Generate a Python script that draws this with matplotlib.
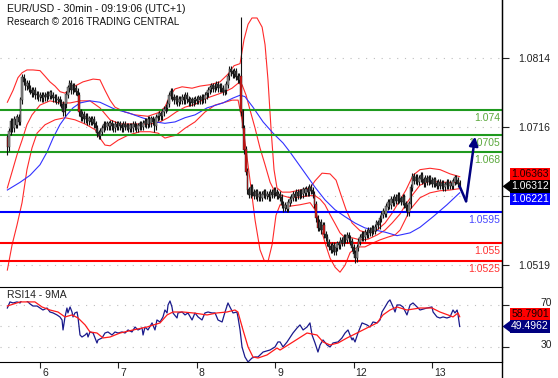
import numpy as np
import matplotlib.pyplot as plt
import matplotlib.transforms as mtrans
from matplotlib.lines import Line2D
from matplotlib.patches import Polygon

plt.rcParams['font.family'] = ['Liberation Sans', 'DejaVu Sans']

# EUR/USD 30min closes, bar 20 = start of day 6 (48 bars a day)
closes = [
    1.0687, 1.0709, 1.0723, 1.0714, 1.0726, 1.0719, 1.0729, 1.0723, 1.0754, 1.0786, 1.0780, 1.0774,
    1.0777, 1.0770, 1.0768, 1.0764, 1.0767, 1.0761, 1.0762, 1.0758, 1.0760, 1.0757, 1.0761, 1.0758,
    1.0762, 1.0760, 1.0764, 1.0760, 1.0757, 1.0758, 1.0754, 1.0755, 1.0751, 1.0748, 1.0737, 1.0748,
    1.0762, 1.0771, 1.0777, 1.0768, 1.0774, 1.0770, 1.0766, 1.0760, 1.0737, 1.0730, 1.0733, 1.0727,
    1.0730, 1.0724, 1.0727, 1.0723, 1.0726, 1.0720, 1.0714, 1.0707, 1.0703, 1.0709, 1.0714, 1.0719,
    1.0716, 1.0720, 1.0717, 1.0721, 1.0717, 1.0714, 1.0719, 1.0716, 1.0720, 1.0717, 1.0714, 1.0719,
    1.0716, 1.0717, 1.0713, 1.0717, 1.0714, 1.0719, 1.0716, 1.0713, 1.0717, 1.0720, 1.0716, 1.0721,
    1.0724, 1.0720, 1.0726, 1.0721, 1.0727, 1.0723, 1.0717, 1.0729, 1.0731, 1.0734, 1.0731, 1.0737,
    1.0740, 1.0743, 1.0749, 1.0760, 1.0766, 1.0758, 1.0754, 1.0757, 1.0751, 1.0755, 1.0753, 1.0758,
    1.0754, 1.0760, 1.0755, 1.0751, 1.0754, 1.0750, 1.0754, 1.0755, 1.0753, 1.0757, 1.0754, 1.0758,
    1.0755, 1.0761, 1.0764, 1.0768, 1.0771, 1.0774, 1.0770, 1.0773, 1.0776, 1.0771, 1.0774, 1.0770,
    1.0766, 1.0768, 1.0776, 1.0788, 1.0797, 1.0794, 1.0791, 1.0795, 1.0787, 1.0783, 1.0788, 1.0737,
    1.0714, 1.0683, 1.0652, 1.0626, 1.0619, 1.0629, 1.0622, 1.0618, 1.0623, 1.0616, 1.0620, 1.0615,
    1.0619, 1.0623, 1.0618, 1.0620, 1.0616, 1.0622, 1.0619, 1.0625, 1.0622, 1.0618, 1.0620, 1.0615,
    1.0605, 1.0601, 1.0604, 1.0599, 1.0608, 1.0612, 1.0615, 1.0619, 1.0616, 1.0622, 1.0618, 1.0623,
    1.0620, 1.0626, 1.0622, 1.0627, 1.0623, 1.0629, 1.0625, 1.0620, 1.0605, 1.0586, 1.0572, 1.0580,
    1.0569, 1.0575, 1.0563, 1.0558, 1.0551, 1.0545, 1.0541, 1.0547, 1.0538, 1.0544, 1.0549, 1.0547,
    1.0554, 1.0551, 1.0558, 1.0555, 1.0561, 1.0557, 1.0552, 1.0544, 1.0535, 1.0529, 1.0544, 1.0552,
    1.0558, 1.0562, 1.0559, 1.0565, 1.0562, 1.0568, 1.0565, 1.0571, 1.0568, 1.0573, 1.0579, 1.0576,
    1.0585, 1.0591, 1.0595, 1.0592, 1.0602, 1.0608, 1.0604, 1.0612, 1.0608, 1.0615, 1.0611, 1.0618,
    1.0613, 1.0609, 1.0615, 1.0606, 1.0601, 1.0594, 1.0606, 1.0629, 1.0645, 1.0639, 1.0644, 1.0638,
    1.0642, 1.0646, 1.0640, 1.0636, 1.0642, 1.0638, 1.0643, 1.0639, 1.0635, 1.0640, 1.0635, 1.0632,
    1.0636, 1.0632, 1.0635, 1.0630, 1.0633, 1.0636, 1.0632, 1.0635, 1.0632, 1.0638, 1.0643, 1.0639,
    1.0635, 1.06312]
first_open = 1.0700
spike_high = {0: 1.0704, 143: 1.0872}
spike_low = {0: 1.0676, 90: 1.0708, 169: 1.0594, 213: 1.0522}

days = ['6', '7', '8', '9', '12', '13']
day_bar = [20, 68, 116, 164, 212, 260]

# bollinger bands (red)
upper_bar = [0, 3.5, 6.5, 9, 12, 15.7, 20, 23.1, 26.1, 29.2, 32.3, 35.3, 38.4, 41.4, 46.3, 52.5, 56.7,
             59.8, 62.9, 65.9, 72.1, 78.2, 86.1, 92.3, 96.5, 99.6, 102.7, 107, 113.1, 118, 124.1, 130.2,
             135.1, 138.8, 142.5, 144.9, 147.4, 149.8, 152.9, 156, 157.8, 159.6, 161.5, 163.3, 165.1,
             168.2, 173.1, 179.2, 185.4, 188.4, 192.7, 197.6, 201.3, 204.3, 207.4, 211.1, 216, 220.9,
             226.4, 231.3, 235.6, 240.5, 244.1, 248.4, 252.7, 258.8, 265, 271.1, 277]
upper = [1.0751, 1.0768, 1.0786, 1.0793, 1.0797, 1.0797, 1.0796, 1.0788, 1.0780, 1.0774, 1.0766, 1.0764,
         1.0770, 1.0774, 1.0780, 1.0784, 1.0783, 1.0768, 1.0754, 1.0744, 1.0737, 1.0733, 1.0731, 1.0736,
         1.0744, 1.0761, 1.0770, 1.0773, 1.0771, 1.0774, 1.0776, 1.0780, 1.0791, 1.0803, 1.0806, 1.0840,
         1.0862, 1.0871, 1.0871, 1.0858, 1.0833, 1.0783, 1.0712, 1.0655, 1.0629, 1.0623, 1.0623, 1.0626,
         1.0629, 1.0639, 1.0650, 1.0649, 1.0640, 1.0619, 1.0598, 1.0579, 1.0568, 1.0565, 1.0569, 1.0579,
         1.0593, 1.0612, 1.0626, 1.0647, 1.0655, 1.0657, 1.0655, 1.0649, 1.0645]
mid_bar = [0, 2.9, 5.9, 9, 12, 15.1, 20, 26.1, 32.3, 38.4, 44.5, 50.6, 56.7, 62.9, 69, 75.1, 81.2, 87.4,
           93.5, 98.4, 103.3, 108.8, 114.9, 121, 127.2, 133.3, 137.6, 141.3, 143.7, 146.2, 148.6, 151.7,
           154.7, 157.8, 160.9, 163.9, 167, 173.1, 179.2, 185.4, 188.4, 191.5, 194.5, 197.6, 200.7, 203.7,
           206.8, 211.1, 216, 220.9, 226.4, 231.3, 235.6, 240.5, 244.1, 248.4, 252.7, 258.8, 265, 271.1, 277]
mid = [1.0629, 1.0652, 1.0676, 1.0697, 1.0719, 1.0733, 1.0747, 1.0753, 1.0750, 1.0750, 1.0753, 1.0753,
       1.0743, 1.0726, 1.0720, 1.0720, 1.0720, 1.0720, 1.0723, 1.0729, 1.0737, 1.0744, 1.0748, 1.0756,
       1.0761, 1.0766, 1.0771, 1.0778, 1.0776, 1.0761, 1.0740, 1.0714, 1.0686, 1.0662, 1.0637, 1.0623,
       1.0619, 1.0615, 1.0616, 1.0618, 1.0618, 1.0613, 1.0605, 1.0591, 1.0578, 1.0565, 1.0558, 1.0558,
       1.0555, 1.0556, 1.0562, 1.0569, 1.0579, 1.0592, 1.0606, 1.0620, 1.0633, 1.0639, 1.0637, 1.0637, 1.0636]
lower_bar = [0, 2.9, 5.9, 9, 12, 15.1, 18.2, 23.1, 29.2, 35.3, 41.4, 47.6, 53.7, 56.7, 59.8, 62.9, 67.8,
             73.9, 81.2, 87.4, 92.3, 96.5, 99.6, 103.3, 108.8, 114.9, 121, 127.2, 133.3, 137.6, 141.3,
             143.7, 146.2, 148.6, 151.7, 154.7, 157.2, 159.6, 162.1, 164.5, 167, 173.1, 179.2, 185.4,
             188.4, 191.5, 194.5, 197.6, 200.7, 203.7, 206.8, 209.9, 214.7, 219, 223.3, 228.2, 233.1,
             237.4, 240.5, 243.5, 246.6, 252.7, 258.8, 265, 271.1, 277]
lower = [1.0512, 1.0548, 1.0576, 1.0608, 1.0655, 1.0686, 1.0707, 1.0719, 1.0726, 1.0729, 1.0726, 1.0720,
         1.0712, 1.0700, 1.0690, 1.0689, 1.0697, 1.0704, 1.0709, 1.0709, 1.0707, 1.0700, 1.0702, 1.0704,
         1.0714, 1.0723, 1.0737, 1.0747, 1.0751, 1.0754, 1.0754, 1.0726, 1.0683, 1.0640, 1.0583, 1.0541,
         1.0526, 1.0524, 1.0548, 1.0590, 1.0605, 1.0603, 1.0605, 1.0608, 1.0598, 1.0576, 1.0551, 1.0529,
         1.0516, 1.0509, 1.0519, 1.0537, 1.0545, 1.0545, 1.0550, 1.0555, 1.0559, 1.0562, 1.0569, 1.0583,
         1.0598, 1.0615, 1.0622, 1.0625, 1.0626, 1.0628]

# blue moving average
ma_bar = [0, 7.8, 13.9, 20, 24.3, 28, 32.2, 36.5, 40.2, 44.5, 50.6, 56.7, 65.9, 73.9, 82.5, 90.4, 96.5,
          102.7, 108.8, 114.9, 122.3, 132, 138.2, 142.5, 145.5, 150.4, 156.6, 162.7, 168.8, 173.1, 182.3,
          188.4, 194.5, 200.6, 206.8, 212.9, 219, 225.1, 231.3, 238.6, 246.6, 252.7, 260.7, 269.2, 277]
ma = [1.0626, 1.0637, 1.0647, 1.0662, 1.0680, 1.0700, 1.0719, 1.0733, 1.0743, 1.0750, 1.0753, 1.0751,
      1.0741, 1.0736, 1.0729, 1.0723, 1.0721, 1.0723, 1.0729, 1.0733, 1.0743, 1.0750, 1.0757, 1.0761,
      1.0759, 1.0744, 1.0723, 1.0707, 1.0693, 1.0680, 1.0650, 1.0630, 1.0612, 1.0598, 1.0588, 1.0579,
      1.0572, 1.0569, 1.0566, 1.0561, 1.0565, 1.0573, 1.0588, 1.0605, 1.06221]

# RSI14 and its 9MA
rsi_bar = [0, 1.6, 3.5, 5.9, 7.8, 10.2, 12, 13.9, 15.7, 18.2,
           20, 21.8, 24.3, 26.1, 28, 30.4, 32.2, 33.5, 34.1, 35.3,
           36.5, 37.1, 38.4, 39.6, 40.2, 41.4, 42.7, 43.3, 44.5, 45.7,
           47.6, 48.8, 49.4, 50.6, 52.5, 53.7, 54.9, 55.5, 58, 59.8,
           61.6, 64.1, 65.9, 67.8, 70.2, 72.1, 73.9, 76.3, 78.2, 80,
           82.5, 83.1, 84.3, 86.1, 88.6, 90.4, 91.6, 93.5, 95.3, 96.5,
           97.8, 98.4, 99.6, 100.8, 101.4, 103.9, 104.5, 107, 108.8, 110.6,
           113.1, 114.9, 116.8, 119.2, 121, 122.9, 125.3, 127.2, 129, 131.5,
           133.3, 135.1, 136.3, 138.2, 140.6, 141.2, 142.5, 143.7, 145.5, 147.4,
           149.8, 151.7, 153.5, 156.6, 160.8, 163.9, 165.7, 167, 168.8, 171.3,
           174.9, 177.4, 179.2, 181.1, 183.5, 185.3, 186.6, 188.4, 190.2, 191.5,
           193.3, 195.8, 197.6, 199.4, 202.5, 204.9, 206.8, 208.6, 209.8, 211.1,
           211.7, 212.9, 214.7, 217.2, 220.2, 222.1, 223.9, 226.4, 228.2, 229.4,
           231.3, 233.1, 234.3, 236.2, 237.4, 238.6, 240.5, 242.3, 244.7, 246.6,
           248.4, 250.9, 252.7, 257, 260, 260.7, 263.1, 264.9, 266.8, 269.2,
           271.1, 272.9, 274.1, 275.4, 276, 277]
rsi = [67.1, 72.9, 71.9, 72.9, 71.9, 78.6, 73.8, 71, 69, 69,
       67.1, 65.2, 67.1, 63.3, 62.4, 60.5, 58.6, 55.7, 46.2, 58.6,
       67.1, 62.4, 68.1, 63.3, 58.6, 62.4, 63.3, 57.6, 41.4, 39.5,
       41.4, 43.3, 39.5, 44.3, 43.3, 38.6, 33.8, 36.7, 38.6, 43.3,
       44.3, 41.4, 44.3, 43.3, 44.3, 43.3, 46.2, 44.3, 49, 46.2,
       48.1, 41.4, 49, 46.2, 52.9, 46.2, 55.7, 53.8, 58.6, 65.2,
       62.4, 70, 73.8, 68.1, 62.4, 57.6, 62.4, 63.3, 60.5, 62.4,
       55.7, 62.4, 58.6, 55.7, 62.4, 63.3, 62.4, 62.4, 55.7, 53.8,
       63.3, 71.9, 68.1, 62.4, 63.3, 58.6, 46.2, 30, 20.5, 15.7,
       19.5, 20.5, 20.5, 25.2, 27.1, 30, 34.8, 34.8, 30, 34.8,
       43.3, 48.1, 51, 46.2, 49, 52.9, 41.4, 33.8, 25.2, 31.9,
       36.7, 31.9, 30, 33.8, 34.8, 38.6, 43.3, 46.2, 41.4, 36.7,
       38.6, 34.8, 43.3, 52.9, 51, 49, 53.8, 52.9, 55.7, 63.3,
       68.1, 72.9, 74.8, 68.1, 63.3, 70, 70, 68.1, 60.5, 70,
       71.9, 68.1, 65.2, 67.1, 68.1, 63.3, 58.6, 57.6, 58.6, 57.6,
       58.6, 65.2, 62.4, 65.2, 60.5, 49.5]
rsi_ma_bar = [0, 7.8, 16.9, 21.2, 26.1, 31, 35.3, 39.6, 43.3, 47.6, 50.6, 54.9, 58.6, 62.9, 69, 77, 85.5,
              93.5, 97.8, 101.4, 107.6, 113.7, 122.3, 128.4, 134.5, 139.4, 141.2, 144.3, 147.4, 150.4,
              153.5, 159, 165.1, 167, 174.9, 183.5, 189.6, 193.3, 197.6, 202.5, 208, 214.1, 220.2, 226.4,
              230, 234.3, 238.6, 244.7, 252.7, 260, 264.9, 269.8, 272.9, 276, 277]
rsi_ma = [69, 72.9, 72.9, 68.1, 65.2, 63.3, 58.6, 60.5, 57.6, 51, 44.3, 43.3, 38.6, 39.5, 43.3, 46.2, 49,
          52.9, 60.5, 63.3, 63.3, 62.4, 60.5, 62.4, 63.3, 65.2, 63.3, 46.2, 30, 20.5, 19.5, 22.4, 29, 27.1,
          34.8, 43.3, 41.4, 34.8, 31.9, 33.8, 38.6, 43.3, 48.1, 52.9, 60.5, 65.2, 68.1, 65.2, 67.1, 67.1,
          63.3, 60.5, 58.6, 62.4, 58.79]

levels = [1.074, 1.0705, 1.068, 1.0595, 1.055, 1.0525]
level_txt = ['1.074', '1.0705', '1.068', '1.0595', '1.055', '1.0525']
level_kind = ['res', 'res', 'res', 'pivot', 'sup', 'sup']

fc_bar = [277, 280.9, 286.4]
fc_price = [1.06312, 1.0610, 1.0702]

price_ticks = [1.0519, 1.0618, 1.0716, 1.0814]
price_tick_txt = ['1.0519', '', '1.0716', '1.0814']

last_mid, last_close, last_ma = '1.06363', '1.06312', '1.06221'
last_rsi_ma, last_rsi = '58.7901', '49.4962'

line_col = {'res': '#1f9a1f', 'pivot': '#0000ff', 'sup': '#ff0000'}
text_col = {'res': '#5aa83c', 'pivot': '#4646ff', 'sup': '#ff3030'}
navy = '#000080'

fig = plt.figure(figsize=(5.58, 3.78), dpi=100)
ax = fig.add_axes([0, 1 - 287 / 378, 502 / 558, 287 / 378])
ax2 = fig.add_axes([0, 16 / 378, 502 / 558, 75 / 378], sharex=ax)
ax.set_xlim(-4.5, 302.9)
ax.set_ylim(1.04879, 1.08966)
ax2.set_ylim(15.7, 87.1)

for v in price_ticks:
    ax.axhline(v, color='#bdbdbd', lw=0.8, ls=(0, (1, 6)), zorder=0)
for v in [30, 50, 70]:
    ax2.axhline(v, color='#bdbdbd', lw=0.8, ls=(0, (1, 6)), zorder=0)

# candles
c = np.array(closes)
o = np.r_[first_open, c[:-1]]
bars = np.arange(len(c))
hi = np.maximum(o, c) + 0.0005
lo = np.minimum(o, c) - 0.0005
for k, v in spike_high.items():
    hi[k] = v
for k, v in spike_low.items():
    lo[k] = v
body_col = np.where(o - c > 0.0012, '#e01414', np.where(c >= o, '#8c8c8c', '#2e2e2e'))

ax.plot(upper_bar, upper, color='#ff2a2a', lw=0.8, zorder=2)
ax.plot(mid_bar, mid, color='#ff2a2a', lw=0.8, zorder=2)
ax.plot(lower_bar, lower, color='#ff2a2a', lw=0.8, zorder=2)
ax.plot(ma_bar, ma, color='#3232ff', lw=0.8, zorder=2)

for lvl, kind in zip(levels, level_kind):
    ax.axhline(lvl, color=line_col[kind], lw=1.5, zorder=3)

ax.vlines(bars, lo, hi, color='#111111', lw=0.8, zorder=4)
ax.bar(bars, np.abs(c - o) + 0.0001, bottom=np.minimum(o, c), width=0.9,
       color=body_col, edgecolor='#1a1a1a', lw=0.3, zorder=5)

for lvl, txt, kind in zip(levels, level_txt, level_kind):
    ax.annotate(txt, xy=(1, lvl), xycoords=('axes fraction', 'data'), xytext=(-2, -8),
                textcoords='offset pixels', ha='right', va='center', fontsize=7.5,
                color=text_col[kind], zorder=6)

# forecast arrow
ax.plot(fc_bar[:2], fc_price[:2], color=navy, lw=1.8, zorder=7, solid_capstyle='round')
ax.annotate('', xy=(fc_bar[2], fc_price[2]), xytext=(fc_bar[1], fc_price[1]),
            arrowprops=dict(arrowstyle='-|>', color=navy, lw=1.8, mutation_scale=13,
                            shrinkA=0, shrinkB=0), zorder=7)

ax2.plot(rsi_bar, rsi, color='#1a1a8c', lw=0.9)
ax2.plot(rsi_ma_bar, rsi_ma, color='#ff1a1a', lw=0.9)

ax.text(7 / 502, 1 - 4 / 287, 'EUR/USD - 30min - 09:19:06 (UTC+1)', transform=ax.transAxes,
        ha='left', va='top', fontsize=7.6, color='#111111')
ax.text(7 / 502, 1 - 17 / 287, 'Research \u00a9 2016 TRADING CENTRAL', transform=ax.transAxes,
        ha='left', va='top', fontsize=7.1, color='#111111')
ax2.text(7 / 502, 1 - 3 / 75, 'RSI14 - 9MA', transform=ax2.transAxes, ha='left', va='top',
         fontsize=7.5, color='#222222', zorder=8,
         bbox=dict(boxstyle='square,pad=0.1', fc='white', ec='none'))

# axes look
for a in (ax, ax2):
    a.spines['left'].set_visible(False)
    a.set_facecolor('white')
ax.spines['top'].set_visible(False)
ax.spines['bottom'].set_visible(False)
ax.tick_params(axis='x', bottom=False, labelbottom=False)

ax.yaxis.tick_right()
ax.set_yticks(price_ticks)
ax.set_yticklabels(price_tick_txt)
ax.tick_params(axis='y', length=5, width=0.8, pad=7, labelsize=7.5, colors='#222222')

ax2.yaxis.tick_right()
ax2.set_yticks([30, 70])
ax2.tick_params(axis='y', length=5, width=0.8, pad=31, labelsize=7.5, colors='#222222')
up_shift = mtrans.ScaledTranslation(0, 2 / 72, fig.dpi_scale_trans)
for lb in ax2.get_yticklabels():
    lb.set_ha('right')
    lb.set_transform(lb.get_transform() + up_shift)

ax2.set_xticks(day_bar)
ax2.set_xticklabels(days)
ax2.tick_params(axis='x', length=4, width=0.8, pad=0.5, labelsize=7.5, colors='#222222')
shift = mtrans.ScaledTranslation(1.5 / 72, 0, fig.dpi_scale_trans)
for lb in ax2.get_xticklabels():
    lb.set_ha('left')
    lb.set_transform(lb.get_transform() + shift)

fig.add_artist(Line2D([502 / 558] * 2, [0, 1], transform=fig.transFigure, color='black', lw=1))


def value_box(a, val, txt, dy, fc, tc):
    a.annotate(txt, xy=(1, val), xycoords=('axes fraction', 'data'), xytext=(28, dy),
               textcoords='offset pixels', ha='center', va='center', fontsize=7.5, color=tc,
               annotation_clip=False, zorder=10,
               bbox=dict(boxstyle='square,pad=0.12', fc=fc, ec='none'))


def tip(a, val, half, fc):
    a.add_patch(Polygon([(1.001, val), (1.017, val + half), (1.017, val - half)], closed=True,
                        transform=a.get_yaxis_transform(), fc=fc, ec='none', clip_on=False,
                        zorder=10))


value_box(ax, float(last_close), last_mid, 12, '#ff0000', '#1a0000')
value_box(ax, float(last_close), last_close, 0, 'black', 'white')
tip(ax, float(last_close), 0.00085, 'black')
value_box(ax, float(last_close), last_ma, -12.5, '#0000ff', 'white')

value_box(ax2, float(last_rsi), last_rsi_ma, 12, '#ff0000', '#1a0000')
value_box(ax2, float(last_rsi), last_rsi, 0, navy, 'white')
tip(ax2, float(last_rsi), 5.7, navy)

fig.savefig('out.png', dpi=100)
